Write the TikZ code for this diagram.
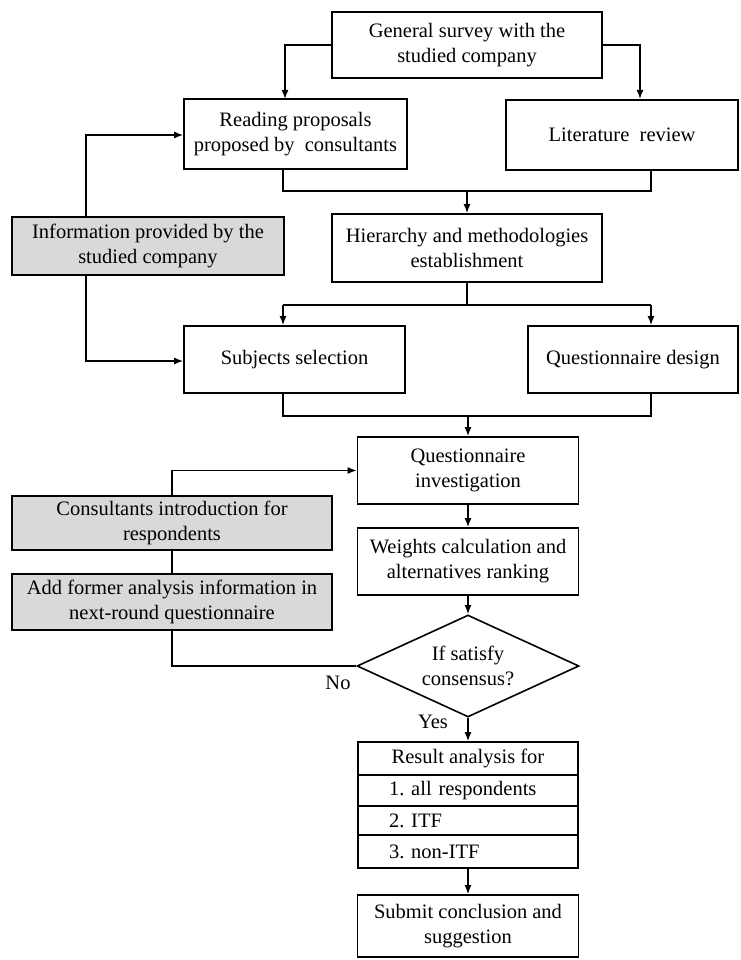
\documentclass[tikz,border=0pt]{standalone}
\usepackage{fontspec}
\setmainfont{Liberation Serif}
\usetikzlibrary{shapes.geometric,arrows.meta}
\definecolor{boxgray}{RGB}{217,217,217}
\begin{document}
\begin{tikzpicture}[x=1pt,y=-1pt,
  font=\fontsize{20.5}{25}\selectfont,
  box/.style={draw=black,line width=1.6pt,rectangle,align=center,inner sep=0pt},
  graybox/.style={box,fill=boxgray},
  conn/.style={line width=1.6pt},
  arr/.style={conn,-{Latex[length=9pt,width=7pt]}},
  cell/.style={draw=black,line width=1.6pt,rectangle,inner sep=0pt,minimum width=220pt,text width=158pt,align=left}
]
\useasboundingbox (0,0) rectangle (740,960);
\fill[white] (0,0) rectangle (740,960);

% nodes
\node[box,minimum width=270pt,minimum height=66pt] (gs) at (467,45) {General survey with the\\studied company};
\node[box,minimum width=223pt,minimum height=70pt] (rp) at (295.5,134) {Reading proposals\\proposed by\ \ consultants};
\node[box,minimum width=232pt,minimum height=70pt] (lr) at (622,135) {Literature\ \ review};
\node[box,minimum width=270pt,minimum height=68pt] (hm) at (467,248) {Hierarchy and methodologies\\establishment};
\node[graybox,minimum width=272pt,minimum height=58pt] (info) at (148,246) {Information provided by the\\studied company};
\node[box,minimum width=221pt,minimum height=67pt] (ss) at (294.5,359.5) {Subjects selection};
\node[box,minimum width=210pt,minimum height=67pt] (qd) at (633,359.5) {Questionnaire design};
\node[box,minimum width=221pt,minimum height=67pt] (qi) at (468,470.5) {Questionnaire\\investigation};
\node[box,minimum width=221pt,minimum height=67pt] (wc) at (468,561.5) {Weights calculation and\\alternatives ranking};
\node[graybox,minimum width=320pt,minimum height=54pt] (ci) at (172,523) {Consultants introduction for\\respondents};
\node[graybox,minimum width=320pt,minimum height=56pt] (af) at (172,602) {Add former analysis information in\\next-round questionnaire};
\node[draw=black,line width=1.6pt,diamond,aspect=2.18,inner sep=0pt,minimum width=222pt,minimum height=102pt,align=center] (dia) at (468,666) {If satisfy\\consensus?};
\node[draw=black,line width=1.6pt,rectangle,inner sep=0pt,minimum width=220pt,minimum height=33pt] (r0) at (468,758.5) {Result analysis for};
\node[cell,minimum height=31pt] (r1) at (468,790.5) {1.\ all respondents};
\node[cell,minimum height=29pt] (r2) at (468,820.5) {2.\ ITF};
\node[cell,minimum height=33pt] (r3) at (468,851.5) {3.\ non-ITF};
\node[box,minimum width=221pt,minimum height=62pt] (sub) at (468,926) {Submit conclusion and\\suggestion};
\node (no) at (338,683) {No};
\node (yes) at (433,722) {Yes};

% helper coordinates
\coordinate (a1) at (285,99);
\coordinate (a2) at (640,99);
\coordinate (m1) at (283,191);
\coordinate (m2) at (651,191);
\coordinate (i1) at (86,135);
\coordinate (i2) at (86,361);
\coordinate (s1) at (283,305);
\coordinate (s2) at (651,305);
\coordinate (m3) at (283,416);
\coordinate (m4) at (651,416);

% connectors
\draw[arr] (gs.west) -| (a1);
\draw[arr] (gs.east) -| (a2);
\draw[conn] (rp.south -| m1) -- (m1) -- (m2) -- (lr.south -| m2);
\draw[arr] (hm.north |- m1) -- (hm.north);
\draw[arr] (info.north -| i1) -- (i1) -- (rp.west |- i1);
\draw[arr] (info.south -| i2) -- (i2) -- (ss.west |- i2);
\draw[conn] (hm.south) -- (hm.south |- s1);
\draw[conn] (s1) -- (s2);
\draw[arr] (s1) -- (s1 |- ss.north);
\draw[arr] (s2) -- (s2 |- qd.north);
\draw[conn] (ss.south -| m3) -- (m3) -- (m4) -- (qd.south -| m4);
\draw[arr] (qi.north |- m3) -- (qi.north);
\draw[arr] (qi.south) -- (wc.north);
\draw[arr] (wc.south) -- (dia.north);
\draw[conn] (ci.south) -- (af.north);
\draw[arr] (ci.north) |- (qi.west);
\draw[conn] (dia.west) -| (af.south);
\draw[arr] (dia.south) -- (r0.north);
\draw[arr] (r3.south) -- (sub.north);
\end{tikzpicture}
\end{document}
